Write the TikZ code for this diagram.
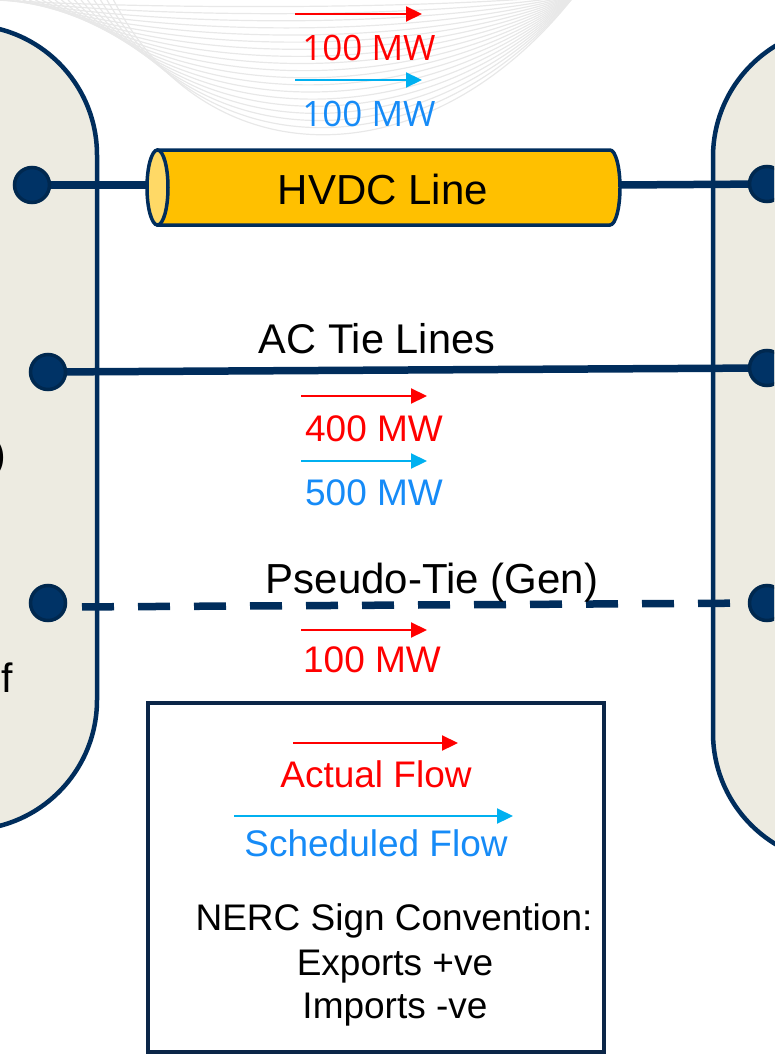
\documentclass[tikz,border=0pt]{standalone}
\usepackage{fontspec}
\setmainfont{Liberation Sans}
\newfontfamily\opensans{Open Sans}
\usetikzlibrary{arrows.meta,backgrounds}
\definecolor{navy}{HTML}{002D5C}
\definecolor{boxnavy}{HTML}{0B2648}
\definecolor{dotfill}{HTML}{003366}
\definecolor{dotline}{HTML}{00284F}
\definecolor{pillfill}{HTML}{EDEBE1}
\definecolor{gold}{HTML}{FFC000}
\definecolor{goldlight}{HTML}{FFD966}
\definecolor{actred}{HTML}{FF0000}
\definecolor{schcyan}{HTML}{00B0F0}
\definecolor{schtext}{HTML}{168BF7}
\definecolor{swoosh}{HTML}{E8E8E8}
\begin{document}
\begin{tikzpicture}[x=1pt,y=-1pt,
  pill/.style={fill=pillfill,draw=navy,line width=4.5pt,rounded corners=130pt},
  tiedot/.style={circle,fill=dotfill,draw=dotline,line width=3.5pt,minimum size=35pt,inner sep=0pt},
  tie/.style={draw=navy,line width=7.5pt},
  flow/.style={line width=2.2pt,-{Triangle[length=16pt,width=15pt]}},
  actual/.style={flow,draw=actred},
  sched/.style={flow,draw=schcyan},
  lbl/.style={inner sep=0pt,anchor=base,font=\fontsize{41.5}{48}\selectfont},
  mw/.style={inner sep=0pt,anchor=base,font=\fontsize{37}{44}\selectfont},
  topmw/.style={inner sep=0pt,anchor=base,font=\opensans\fontsize{35}{42}\selectfont},
  lgd/.style={inner sep=0pt,anchor=base,font=\fontsize{37}{44}\selectfont},
  frag/.style={inner sep=0pt,anchor=base east,font=\fontsize{41}{48}\selectfont}
]
\useasboundingbox (0,0) rectangle (774,1054);
\clip (0,0) rectangle (774,1054);

% background: swoosh and the two areas
\begin{scope}[on background layer]
  \foreach \t in {0.05,0.1,...,1.0}{
    \draw[swoosh,line width=1.2pt] ({-10+130*\t},0) .. controls ({150+60*\t},{190*\t}) and (430,{190*\t}) .. (575,-5);
  }
  \path[pill] (-400,25) rectangle (97,830);
  \path[pill] (713,27) rectangle (1200,863);
\end{scope}

% text fragments of the left area
\node[frag] (fragA) at (6.5,468) {)};
\node[frag] (fragB) at (13,692) {f};
\node[frag,text=black!40] (fragC) at (4.5,790) {.};

% HVDC cylinder
\fill[gold,draw=navy,line width=3.5pt] (158,150) -- (610,150)
  arc[start angle=90,end angle=-90,x radius=10pt,y radius=37.5pt] -- (158,225) -- cycle;
\draw[fill=goldlight,draw=navy,line width=3.5pt] (157.5,187.5) ellipse [x radius=10.5pt,y radius=37.5pt];
\node[lbl,font=\fontsize{42}{48}\selectfont] (hvdc) at (383,204) {HVDC Line};
\coordinate (cylL) at (147,185);
\coordinate (cylR) at (620,185);

% dots
\node[tiedot] (L1) at (32,185) {};
\node[tiedot] (L2) at (48,372) {};
\node[tiedot] (L3) at (48,603) {};
\node[tiedot] (R1) at (767,184) {};
\node[tiedot] (R2) at (767,368) {};
\node[tiedot] (R3) at (767,603) {};
\coordinate (ptL) at (67,607);

% tie lines (behind dots)
\begin{scope}[on background layer]
  \draw[tie] (L1.center) -- (cylL);
  \draw[tie] (cylR) -- (R1.center);
  \draw[tie] (L2.center) -- (R2.center);
  \draw[tie,dash pattern=on 32pt off 24pt,dash phase=41pt] (ptL) -- (R3.center);
\end{scope}

% HVDC flows
\coordinate (h1a) at (295,14);  \coordinate (h1b) at (422,14);
\coordinate (h2a) at (295,80);  \coordinate (h2b) at (422,80);
\draw[actual] (h1a) -- (h1b);
\draw[sched] (h2a) -- (h2b);
\node[topmw,text=actred] (hvA) at (369,61) {100 MW};
\node[topmw,text=schtext] (hvS) at (369,126) {100 MW};

% AC tie lines
\node[lbl] (ac) at (377,353) {AC Tie Lines};
\coordinate (a1a) at (301,396); \coordinate (a1b) at (427,396);
\coordinate (a2a) at (301,461); \coordinate (a2b) at (427,461);
\draw[actual] (a1a) -- (a1b);
\draw[sched] (a2a) -- (a2b);
\node[mw,text=actred] (acA) at (374,441) {400 MW};
\node[mw,text=schtext] (acS) at (374,505) {500 MW};

% pseudo-tie
\node[lbl,font=\fontsize{42}{48}\selectfont] (pt) at (432,593) {Pseudo-Tie (Gen)};
\coordinate (p1a) at (301,630); \coordinate (p1b) at (427,630);
\draw[actual] (p1a) -- (p1b);
\node[mw,text=actred] (ptA) at (372,672) {100 MW};

% legend
\node[draw=boxnavy,line width=4pt,fill=white,minimum width=456pt,minimum height=349pt,inner sep=0pt] (legend) at (376,877.5) {};
\coordinate (la1) at (293,743); \coordinate (la2) at (458,743);
\coordinate (ls1) at (234,816); \coordinate (ls2) at (513,816);
\draw[actual] (la1) -- (la2);
\draw[sched] (ls1) -- (ls2);
\node[lgd,text=actred] (lgA) at (376,787) {Actual Flow};
\node[lgd,text=schtext] (lgS) at (376,856) {Scheduled Flow};
\node[lgd] (nerc) at (394,930) {NERC Sign Convention:};
\node[lgd] (exp) at (395,975) {Exports +ve};
\node[lgd] (imp) at (395,1018) {Imports -ve};
\end{tikzpicture}
\end{document}
